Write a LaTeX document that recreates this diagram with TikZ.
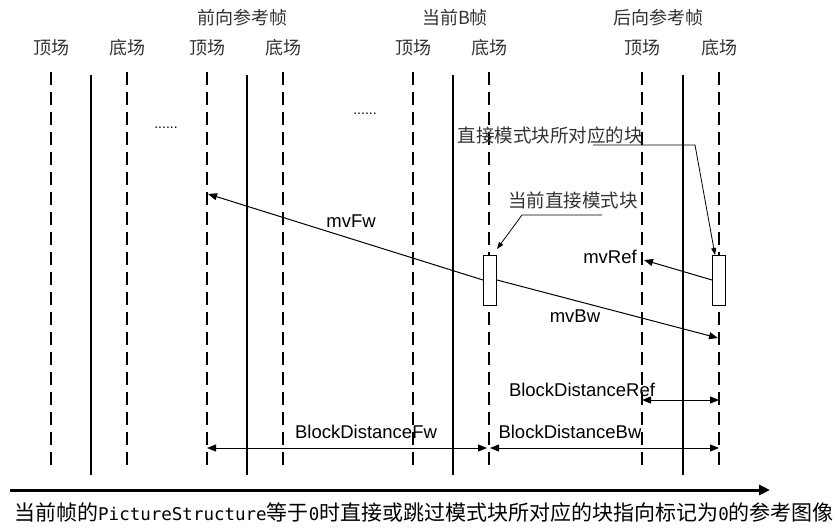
\documentclass[tikz,border=0pt]{standalone}
\usepackage{fontspec}
\usetikzlibrary{arrows.meta}
\newfontfamily\cjk{Noto Sans CJK SC}
\newfontfamily\lat{Liberation Sans}
\newfontfamily\mono{DejaVu Sans Mono}
\newcommand\mtxt[1]{{\mono\fontsize{17.5}{17.5}\selectfont #1}}
\begin{document}
\begin{tikzpicture}[x=1pt,y=-1pt,
  dline/.style={line width=2.9pt,dash pattern=on 13pt off 7pt},
  sline/.style={line width=1.2pt},
  hdr/.style={font=\cjk\fontsize{18}{18}\selectfont,inner sep=0pt,text=black!80},
  note/.style={font=\cjk\fontsize{18.5}{18.5}\selectfont,inner sep=0pt,text=black!80},
  lbl/.style={font=\lat\fontsize{18.5}{18.5}\selectfont,inner sep=0pt},
  arr/.style={line width=1pt,-{Triangle[length=9pt,width=7pt]}},
  darr/.style={line width=1pt,{Triangle[length=9pt,width=7pt]}-{Triangle[length=9pt,width=7pt]}},
  lead/.style={line width=0.8pt,-{Triangle[length=7pt,width=5pt]}},
  blk/.style={draw,line width=1pt,fill=white,minimum width=13pt,minimum height=50pt,inner sep=0pt}]
\useasboundingbox (0,0) rectangle (835,530);

% field lines
\foreach \x in {51,127,207,283,413,489,642,719}
  \draw[dline] (\x,72) -- (\x,467);
\foreach \x in {91,247,453,683}
  \draw[sline] (\x,75) -- (\x,475);

% headers
\node[hdr] (F1) at (242,18) {前向参考帧};
\node[hdr] (F2) at (455,18) {当前B帧};
\node[hdr] (F3) at (658,18) {后向参考帧};
\node[hdr] (T1) at (51,48) {顶场};
\node[hdr] (B1) at (127,48) {底场};
\node[hdr] (T2) at (207,48) {顶场};
\node[hdr] (B2) at (283,48) {底场};
\node[hdr] (T3) at (413,48) {顶场};
\node[hdr] (B3) at (489,48) {底场};
\node[hdr] (T4) at (642,48) {顶场};
\node[hdr] (B4) at (719,48) {底场};

% ellipses
\node[font=\lat\fontsize{14}{14}\selectfont,inner sep=0pt] (dots1) at (166,128) {......};
\node[font=\lat\fontsize{14}{14}\selectfont,inner sep=0pt] (dots2) at (365,114) {......};

% blocks
\node[blk] (b1) at (490,280) {};
\node[blk] (b2) at (719,280) {};

% motion vectors
\coordinate (fwTip) at (208,194);
\coordinate (bwTip) at (718,338);
\coordinate (refTip) at (644,260);
\draw[arr] (b1.west) -- (fwTip);
\draw[arr] (b1.east) -- (bwTip);
\draw[arr] (b2.west) -- (refTip);
\node[lbl] (mvFw) at (351,221) {mvFw};
\node[lbl] (mvBw) at (575,316) {mvBw};
\node[lbl] (mvRef) at (610,257) {mvRef};

% annotations
\node[note] (n1) at (550,135) {直接模式块所对应的块};
\node[note] (n2) at (573,200) {当前直接模式块};
\coordinate (l1a) at (593,145);
\coordinate (l1b) at (695,145);
\coordinate (l1t) at (715,255);
\draw[lead] (l1a) -- (l1b) -- (l1t);
\coordinate (l2a) at (602,215);
\coordinate (l2b) at (522,215);
\coordinate (l2t) at (497,249);
\draw[lead] (l2a) -- (l2b) -- (l2t);

% block distances
\coordinate (rL) at (642,400);
\coordinate (rR) at (719,400);
\draw[darr] (rL) -- (rR);
\node[lbl] (bdr) at (582,390) {BlockDistanceRef};
\coordinate (fL) at (207,448);
\coordinate (fR) at (487,448);
\draw[darr] (fL) -- (fR);
\node[lbl] (bdf) at (366,432) {BlockDistanceFw};
\coordinate (bL) at (490,448);
\coordinate (bR) at (719,448);
\draw[darr] (bL) -- (bR);
\node[lbl] (bdb) at (570,432) {BlockDistanceBw};

% time axis
\coordinate (axL) at (10,490);
\coordinate (axR) at (770,490);
\draw[line width=3pt,-{Triangle[length=11pt,width=10pt]}] (axL) -- (axR);
\node[anchor=west,inner sep=0pt,font=\cjk\fontsize{21}{21}\selectfont] (cap) at (14,513)
  {当前帧的\mtxt{PictureStructure}等于\mtxt{0}时直接或跳过模式块所对应的块指向标记为\mtxt{0}的参考图像};
\end{tikzpicture}
\end{document}
